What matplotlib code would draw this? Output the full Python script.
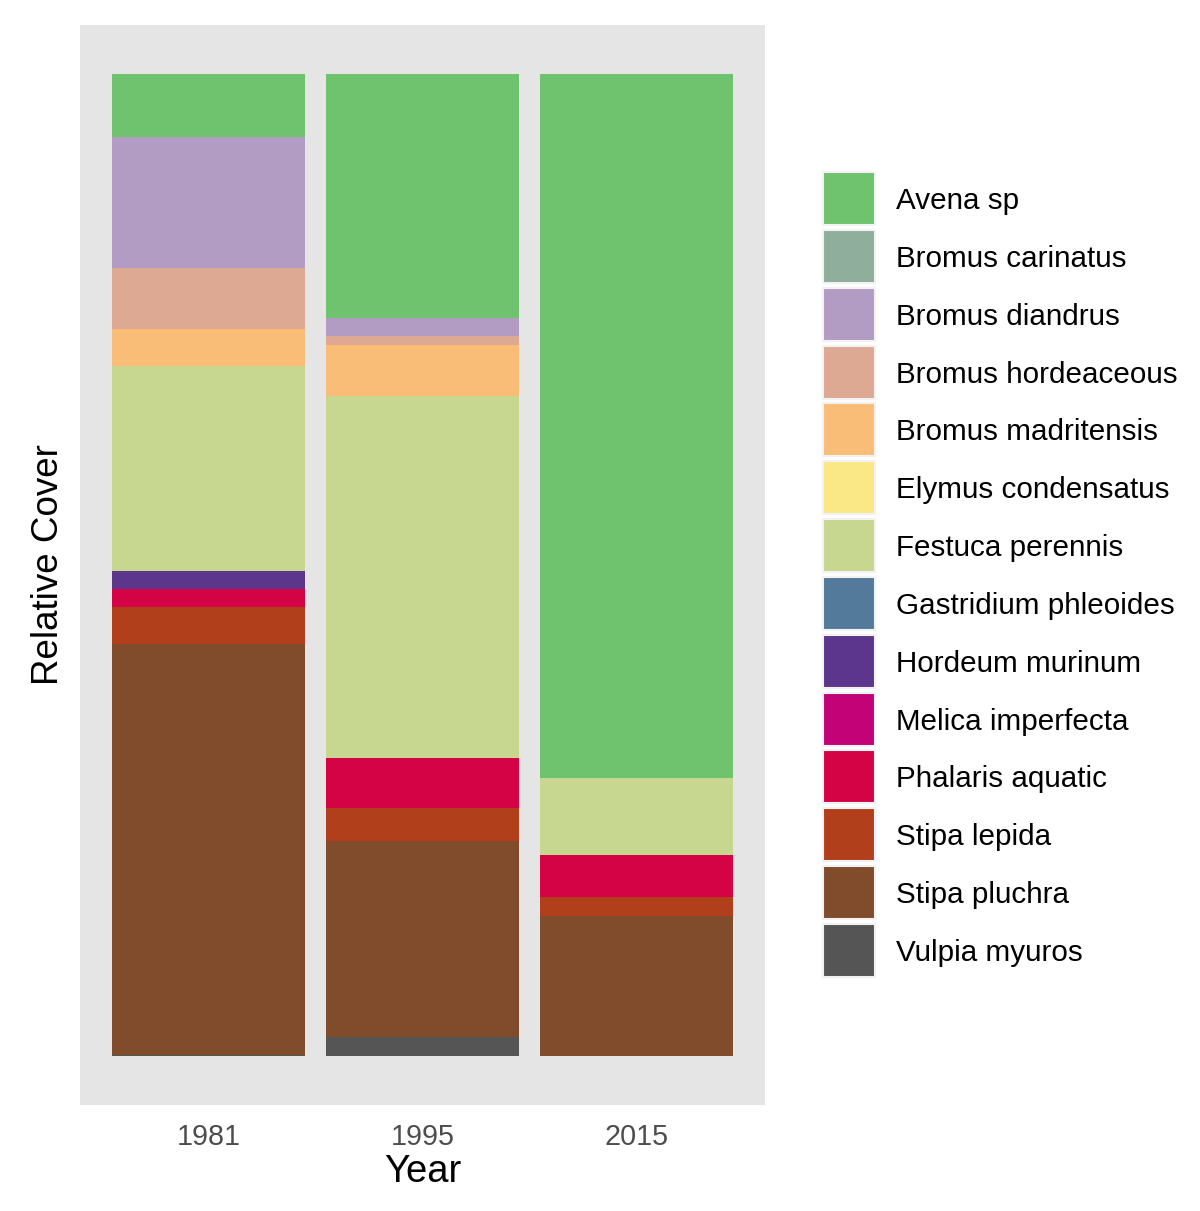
import matplotlib.pyplot as plt
from matplotlib.patches import Rectangle

plt.rcParams['font.family'] = ['Liberation Sans', 'DejaVu Sans']

# data (relative cover per year)
years = ['1981', '1995', '2015']
species = ['Avena sp', 'Bromus carinatus', 'Bromus diandrus', 'Bromus hordeaceous',
           'Bromus madritensis', 'Elymus condensatus', 'Festuca perennis',
           'Gastridium phleoides', 'Hordeum murinum', 'Melica imperfecta',
           'Phalaris aquatic', 'Stipa lepida', 'Stipa pluchra', 'Vulpia myuros']
colors = ['#6FC26E', '#8FAE9C', '#B39CC4', '#DDA992', '#F9BD78', '#FAE785',
          '#C8D78F', '#537A9A', '#5C358C', '#C20276', '#D30345', '#B23F1B',
          '#814C2C', '#555555']

cover_1981 = [0.064, 0.0, 0.134, 0.062, 0.037, 0.0, 0.209, 0.0, 0.018, 0.0,
              0.019, 0.037, 0.419, 0.001]
cover_1995 = [0.248, 0.0, 0.019, 0.009, 0.052, 0.0, 0.369, 0.0, 0.0, 0.0,
              0.050, 0.034, 0.200, 0.019]
cover_2015 = [0.717, 0.0, 0.0, 0.0, 0.0, 0.0, 0.078, 0.0, 0.0, 0.0,
              0.043, 0.019, 0.143, 0.0]


def draw_chart():
    fig = plt.figure(figsize=(12, 12.11), dpi=100)
    W, H = 1200, 1211
    ax = fig.add_axes([80 / W, 1 - 1105 / H, 685 / W, 1080 / H])
    ax.set_facecolor('#E5E5E5')

    x = [1, 2, 3]
    columns = [cover_1981, cover_1995, cover_2015]
    # stack from the last species (bottom) up to the first (top)
    bottoms = [0.0, 0.0, 0.0]
    for i in range(len(species) - 1, -1, -1):
        vals = [col[i] for col in columns]
        ax.bar(x, vals, width=0.9, bottom=bottoms, color=colors[i],
               edgecolor='none')
        bottoms = [b + v for b, v in zip(bottoms, vals)]

    ax.set_xlim(0.4, 3.6)
    ax.set_ylim(-0.05, 1.05)
    ax.set_xticks(x)
    ax.set_xticklabels(years, fontsize=20.7, color='#4D4D4D')
    ax.tick_params(axis='x', length=0, pad=13)
    ax.set_yticks([])
    for s in ax.spines.values():
        s.set_visible(False)
    ax.set_xlabel('Year', fontsize=27.5, labelpad=2)
    ax.set_ylabel('Relative Cover', fontsize=26.5, labelpad=10)

    # legend drawn by hand in pixel coordinates
    lax = fig.add_axes([0, 0, 1, 1])
    lax.set_xlim(0, W)
    lax.set_ylim(H, 0)
    lax.axis('off')
    pitch = (924 - 172) / 13
    for i, name in enumerate(species):
        top = 172 + i * pitch
        lax.add_patch(Rectangle((823, top), 52, 53, facecolor=colors[i],
                                edgecolor='#F2F2F2', linewidth=1.5))
        lax.text(896, top + 29, name, fontsize=21.3, va='center', ha='left')

    fig.savefig('out.png', dpi=100)


if __name__ == "__main__":
    draw_chart()
